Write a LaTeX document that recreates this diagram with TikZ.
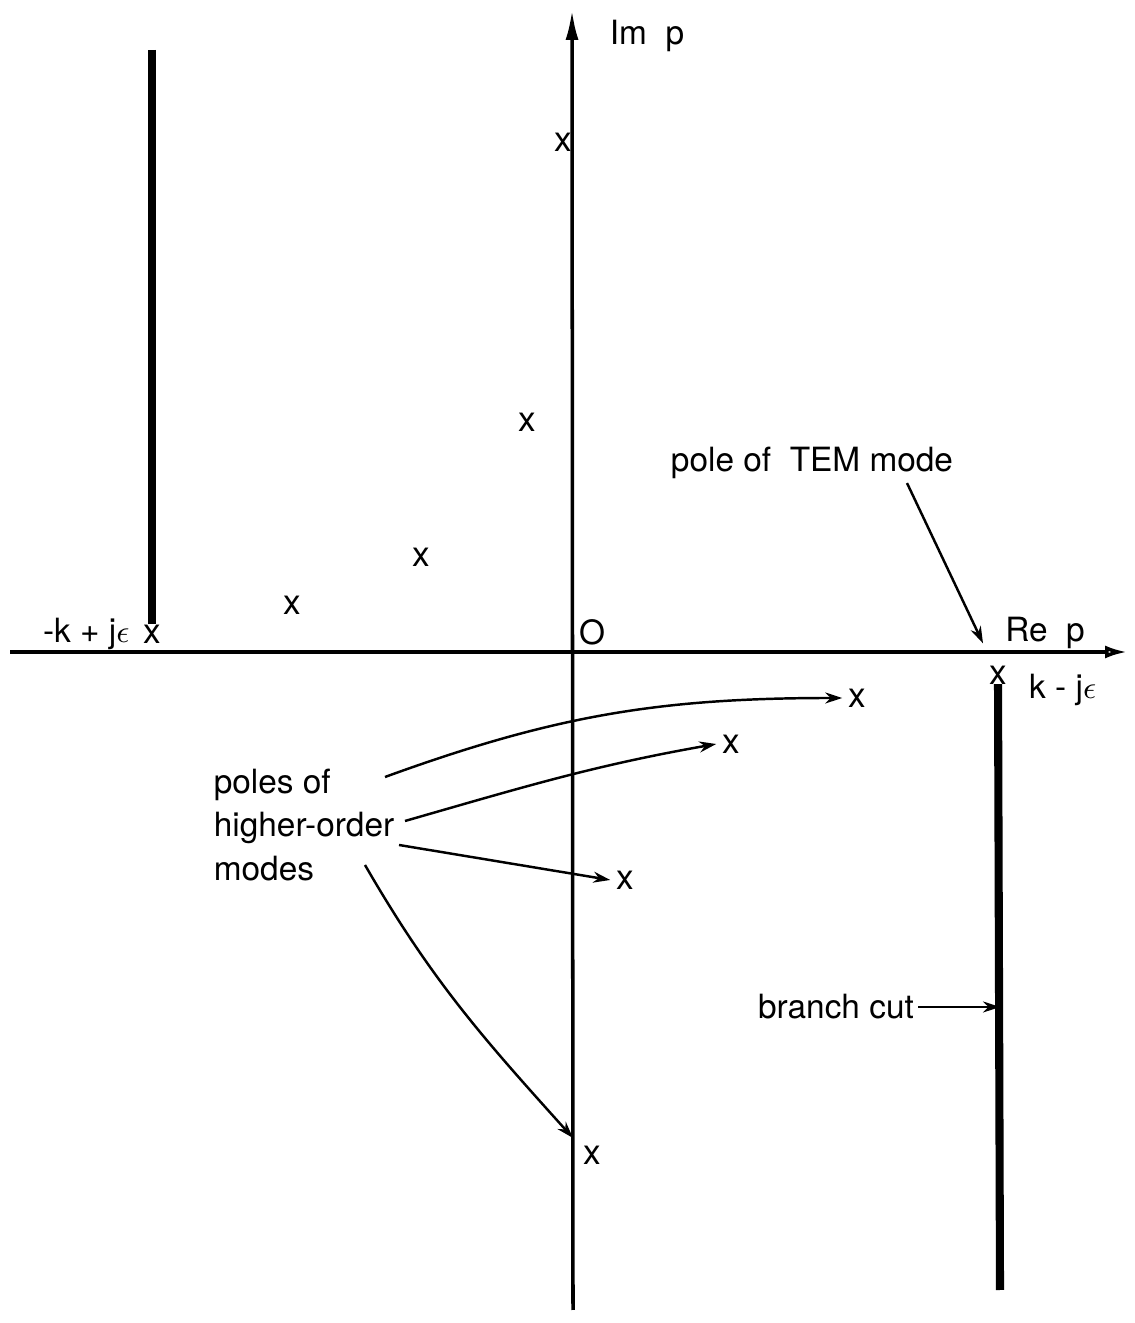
\documentclass[tikz,border=0pt]{standalone}
\usepackage{fontspec}
\setmainfont{TeX Gyre Heros}
\usetikzlibrary{arrows.meta,positioning}
\tikzset{
  lbl/.style={font=\fontsize{9.5}{12.5}\selectfont, inner sep=1pt},
  polex/.style={font=\fontsize{10}{12}\selectfont, inner sep=1.5pt},
  axis/.style={line width=1pt, draw=black},
  branchcut/.style={line width=2.3pt, line cap=butt},
  arrow/.style={-{Stealth[length=1.7mm,width=1.1mm]}, line width=.7pt}
}

\begin{document}
\begin{tikzpicture}
  \useasboundingbox (0,0) rectangle (11.34,13.23);

  % axes of the p plane
  \coordinate (axW) at (0.10,6.71);
  \coordinate (axE) at (11.27,6.71);
  \coordinate (axS) at (5.73,0.13);
  \coordinate (axN) at (5.72,13.13);
  \draw[axis, -{Latex[length=2.2mm,width=1.3mm,open]}] (axW) -- (axE);
  \draw[axis, -{Latex[length=3mm,width=1.3mm]}] (axS) -- (axN);
  \node[lbl] (im) at (6.47,12.87) {Im\ \ p};
  \node[lbl] (re) at (10.45,6.90) {Re\ \ p};
  \node[lbl] (orig) at (5.92,6.91) {O};

  % branch points and cuts
  \node[polex] (kl) at (1.52,6.89) {x};
  \node[lbl, left=1pt of kl] (kll) {-k + j$\epsilon$};
  \coordinate (ltop) at (1.52,12.73);
  \draw[branchcut] (ltop) -- ([yshift=-1.5pt]kl.north);

  \node[polex] (kr) at (9.98,6.48) {x};
  \node[lbl, anchor=west] (krl) at (10.25,6.33) {k - j$\epsilon$};
  \coordinate (rbot) at (10.00,0.33);
  \draw[branchcut] (kr.base) -- (rbot);

  % poles above the real axis
  \node[polex] (p1) at (5.63,11.81) {x};
  \node[polex] (p2) at (5.27,9.01) {x};
  \node[polex] (p3) at (4.21,7.66) {x};
  \node[polex] (p4) at (2.92,7.18) {x};

  % poles below the real axis
  \node[polex] (q1) at (8.57,6.25) {x};
  \node[polex] (q2) at (7.31,5.79) {x};
  \node[polex] (q3) at (6.25,4.43) {x};
  \node[polex] (q4) at (5.92,1.68) {x};

  \node[lbl] (tem) at (8.12,8.60) {pole\ of\ \ TEM\ mode};
  \draw[arrow, shorten >=3.5mm] ([xshift=9.5mm]tem.south) -- (kr.center);

  \node[lbl, align=left] (hom) at (3.04,4.98) {poles of\\higher-order\\modes};
  \coordinate (h1) at (3.85,5.46);
  \coordinate (h2) at (4.05,5.02);
  \coordinate (h3) at (3.99,4.78);
  \coordinate (h4) at (3.65,4.58);
  \draw[arrow] (h1) to[out=20,in=180] (q1.west);
  \draw[arrow] (h2) to[out=16,in=190] (q2.west);
  \draw[arrow] (h3) -- (q3.west);
  \draw[arrow] (h4) to[out=-60,in=132] ([shift={(-1.9mm,1.7mm)}]q4.center);

  \node[lbl] (bc) at (8.36,3.16) {branch cut};
  \draw[arrow] (bc.east) -- (bc.east -| rbot);
\end{tikzpicture}
\end{document}
